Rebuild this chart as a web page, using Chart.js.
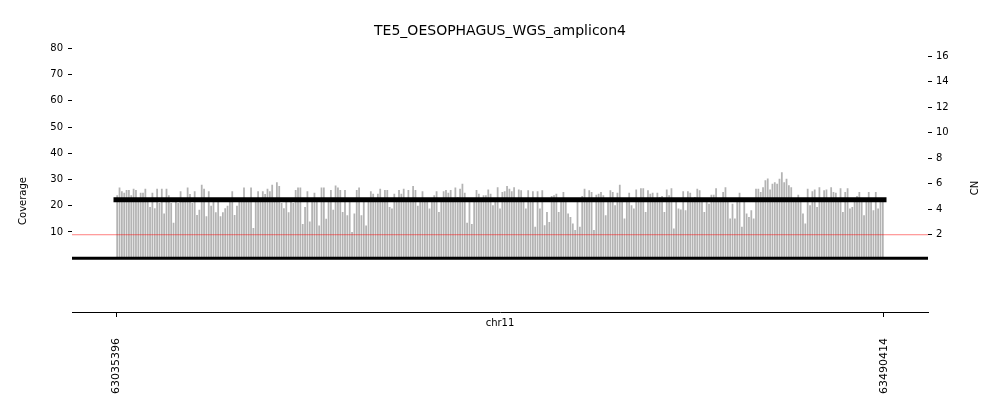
<!DOCTYPE html>
<html>
<head>
<meta charset="utf-8">
<script src="https://cdn.jsdelivr.net/npm/chart.js@4"></script>
<style>
  body { margin: 0; background: #fff; }
  canvas { display: block; }
</style>
</head>
<body>
<canvas id="ampliconChart" width="1000" height="416"></canvas>
<script>
const chartTitle = 'TE5_OESOPHAGUS_WGS_amplicon4';
const chromName = 'chr11';
const regionStart = 63035396;
const regionEnd = 63490414;
const xTickLabels = [63035396, 63490414];
const coverageTicks = [10, 20, 30, 40, 50, 60, 70, 80];
const cnTicks = [2, 4, 6, 8, 10, 12, 14, 16];
const segmentCN = 4.75;
const neutralCN = 2;

// coverage per bin, read left to right
const coverage1 = [24, 27, 25.5, 25, 26, 26, 24, 26.5, 26, 21.5, 25, 25, 26.5, 22, 19.5, 25, 19, 26.5, 21, 26.5,
  17, 26.5, 24, 21, 13.5, 21.5, 21, 25.5, 21.5, 21.5, 27, 24.5, 21, 25.5, 16.5, 18.5, 28, 26.5, 16, 25.5,
  20, 21.5, 17.5, 21.5, 16, 17.5, 19, 20, 21.5, 25.5, 16.5, 20, 23, 21.5, 27, 21.5, 23, 27, 11.5, 21.5,
  25.5, 21.5, 25.5, 24.5, 26.5, 25.5, 28, 21.5, 29, 27.5, 21, 19, 21.5, 17.5, 21.5, 21, 26];
const coverage2 = [27, 27, 13, 19.5, 25.5, 14, 21.5, 25, 22.5, 12.5, 27, 27, 15, 21.5, 26, 18.5, 27.7, 27, 26, 17.6,
  26, 16.4, 21.5, 10, 17, 26, 27, 16.4, 21.5, 12.5, 21.5, 25.5, 24.6, 21.5, 24.6, 26.5, 21.5, 26, 26, 19.5,
  18.9, 24.6, 21.5, 26, 24.6, 26.5, 21.5, 26, 21.5, 27.5, 26, 20, 21.5, 25.5, 21.5, 21.5, 18.9, 21.5, 24, 25.5,
  17.6, 21.5, 25.5, 26, 25, 26, 21.5, 27, 23.3, 26.5, 28.4, 25, 13.5, 21.5, 13, 21.5, 26, 24.6, 21.5, 24];
const coverage3 = [24, 26.2, 24.6, 20.2, 21.8, 27.1, 18.9, 25.2, 25.5, 27.5, 26.5, 25.5, 27.1, 22, 26.2, 25.9, 21.6, 18.9, 25.9, 22.2,
  25.5, 12, 25.5, 18.9, 25.9, 12.6, 17.6, 13.8, 23.7, 24, 24.6, 17.6, 21.8, 25.2, 21.5, 17, 15.7, 13.2, 10.7, 22,
  12, 23.7, 26.5, 21.6, 25.9, 25.2, 10.7, 24.2, 24.6, 25.2, 24, 16.4, 21.8, 25.9, 25.2, 20.2, 25, 28, 22.7, 15.1,
  21.6, 25, 20.2, 18.9, 26.2, 21.7, 26.7, 26.7, 17.6, 25.9, 24.6, 25, 21.8, 25, 23.3, 23.7, 17.6, 26.2, 24, 26.7,
  11.3, 21.6, 18.9];
const coverage4 = [18.6, 25.5, 18.3, 25.5, 25, 21.6, 23.3, 26.5, 25.9, 21.8, 17.6, 21.5, 20.8, 24.2, 24.2, 26.7, 21.6, 22, 25.2, 27.1,
  21.7, 15.1, 20.8, 15.1, 21.9, 25, 12, 21.6, 17, 15.7, 18.3, 15.1, 26.5, 26.5, 25.2, 27.1, 29.7, 30.4, 26.2, 28.4,
  29, 28.4, 30.3, 32.8, 29, 30.3, 27.8, 27.1, 22.7, 21.6, 24.2, 21.8, 17, 13.2, 26.5, 20.2, 25.5, 26.2, 19.5, 27.1,
  21.7, 25.9, 26.2, 21.6, 27.1, 25.2, 25, 21.8, 26.7, 17.6, 25.2, 26.7, 18.9, 19.5, 21.6, 23.7, 25.2, 21.8, 16.4, 22.7,
  25.2, 21.6, 18.3, 25.2, 18.9, 21.7, 21.5];

const coverage = coverage1.concat(coverage2, coverage3, coverage4);
const binSize = (regionEnd - regionStart) / coverage.length;
const barPoints = coverage.map((v, i) => ({ x: regionStart + (i + 0.5) * binSize, y: v }));

// the plot extends a little past the amplicon on both sides
const xPad = (regionEnd - regionStart) * 44 / 768;
const xMin = regionStart - xPad;
const xMax = regionEnd + xPad;

Chart.defaults.font.family = 'DejaVu Sans';
Chart.defaults.font.size = 10;
Chart.defaults.color = '#000';

// axis labels placed like the reference
const extraLabels = {
  id: 'extraLabels',
  afterDraw(chart) {
    const { ctx, chartArea } = chart;
    ctx.save();
    ctx.fillStyle = '#000';
    ctx.font = '10px "DejaVu Sans"';
    ctx.textAlign = 'center';
    ctx.textBaseline = 'middle';
    ctx.fillText(chromName, (chartArea.left + chartArea.right) / 2, chartArea.bottom + 11);

    ctx.translate(23, 201);
    ctx.rotate(-Math.PI / 2);
    ctx.fillText('Coverage', 0, 0);
    ctx.restore();

    ctx.save();
    ctx.fillStyle = '#000';
    ctx.font = '10px "DejaVu Sans"';
    ctx.textAlign = 'center';
    ctx.textBaseline = 'middle';
    ctx.translate(975, 188);
    ctx.rotate(-Math.PI / 2);
    ctx.fillText('CN', 0, 0);
    ctx.restore();
  }
};

const ctx = document.getElementById('ampliconChart').getContext('2d');
const chart = new Chart(ctx, {
  type: 'bar',
  data: {
    datasets: [
      {
        type: 'line',
        data: [{ x: regionStart, y: segmentCN }, { x: regionEnd, y: segmentCN }],
        yAxisID: 'y2',
        borderColor: '#000',
        borderWidth: 5,
        borderCapStyle: 'square',
        pointRadius: 0,
        order: 1
      },
      {
        type: 'line',
        data: [{ x: xMin, y: neutralCN }, { x: xMax, y: neutralCN }],
        yAxisID: 'y2',
        borderColor: 'rgba(255, 0, 0, 0.5)',
        borderWidth: 1,
        pointRadius: 0,
        order: 2
      },
      {
        type: 'line',
        data: [{ x: xMin, y: 0 }, { x: xMax, y: 0 }],
        yAxisID: 'y',
        borderColor: '#000',
        borderWidth: 3,
        pointRadius: 0,
        order: 1
      },
      {
        label: 'Coverage',
        data: barPoints,
        yAxisID: 'y',
        backgroundColor: '#b3b3b3',
        borderWidth: 0,
        barPercentage: 0.75,
        categoryPercentage: 1,
        grouped: false,
        order: 3
      }
    ]
  },
  options: {
    responsive: false,
    animation: false,
    layout: { padding: 0 },
    plugins: {
      legend: { display: false },
      tooltip: { enabled: false },
      title: {
        display: true,
        text: chartTitle,
        color: '#000',
        font: { size: 14, weight: 'normal' },
        padding: { top: 23, bottom: 5 }
      }
    },
    scales: {
      x: {
        type: 'linear',
        min: xMin,
        max: xMax,
        offset: false,
        afterBuildTicks: (scale) => { scale.ticks = xTickLabels.map(v => ({ value: v })); },
        afterFit: (scale) => { scale.height = 104; },
        ticks: {
          autoSkip: false,
          minRotation: 90,
          maxRotation: 90,
          padding: 21,
          font: { size: 11 },
          callback: (v) => String(v)
        },
        grid: { drawOnChartArea: false, tickLength: 5, color: '#000', offset: false },
        border: { display: true, color: '#000', width: 1 }
      },
      y: {
        position: 'left',
        min: -20.54,
        max: 81.4,
        afterBuildTicks: (scale) => { scale.ticks = coverageTicks.map(v => ({ value: v })); },
        afterFit: (scale) => { scale.width = 72; },
        ticks: { padding: 5 },
        grid: { drawOnChartArea: false, tickLength: 4, color: '#000' },
        border: { display: false }
      },
      y2: {
        position: 'right',
        min: -4.06,
        max: 16.9,
        afterBuildTicks: (scale) => { scale.ticks = cnTicks.map(v => ({ value: v })); },
        afterFit: (scale) => { scale.width = 72; },
        ticks: { padding: 4 },
        grid: { drawOnChartArea: false, tickLength: 4, color: '#000' },
        border: { display: false }
      }
    }
  },
  plugins: [extraLabels]
});
</script>
</body>
</html>
